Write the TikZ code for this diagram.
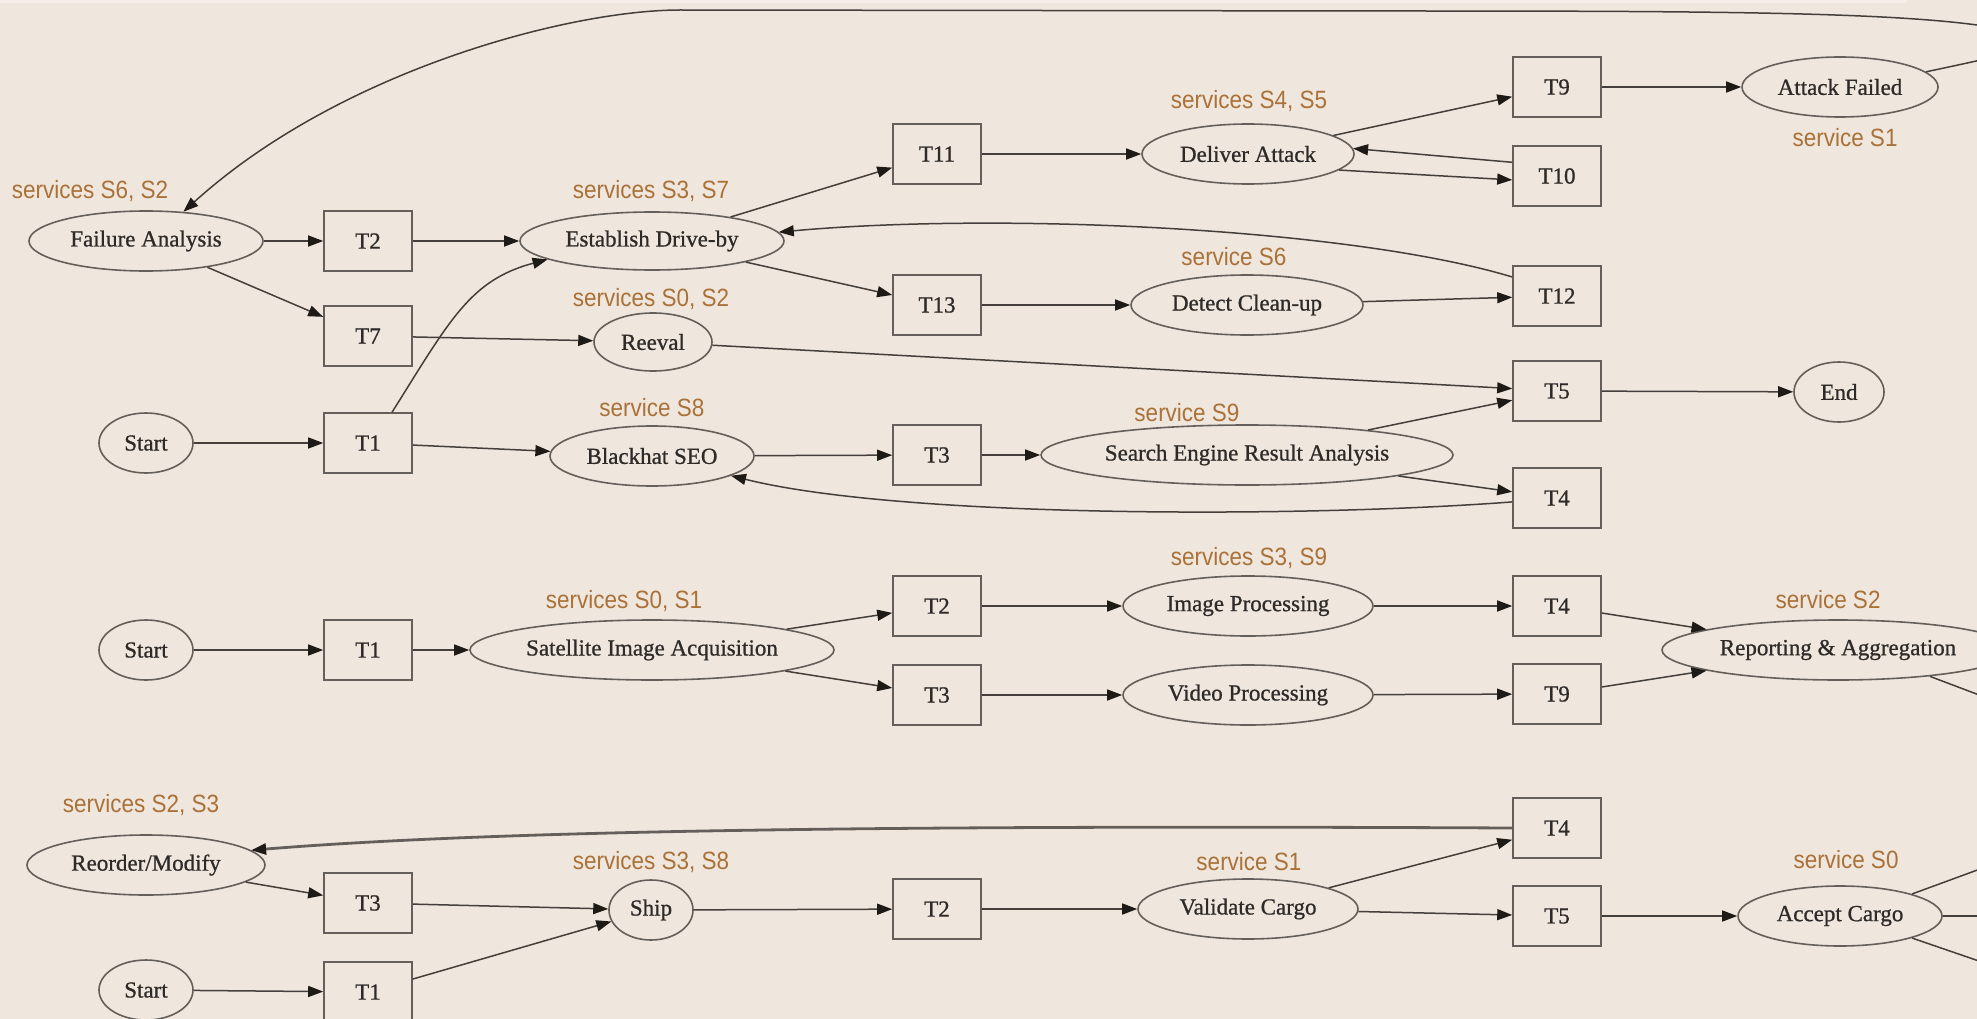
\documentclass[tikz,border=0pt]{standalone}
\usepackage{fontspec}
\setmainfont{Liberation Serif}
\newfontfamily\nodefont[FakeBold=0.8]{Liberation Serif}
\newfontfamily\lblfont[FakeStretch=0.9]{Liberation Sans}
\usetikzlibrary{shapes.geometric,arrows.meta}
\definecolor{bgc}{RGB}{239,231,221}
\definecolor{stripc}{RGB}{244,237,233}
\definecolor{lblc}{RGB}{170,113,56}
\definecolor{edgec}{RGB}{68,63,58}
\definecolor{tipc}{RGB}{30,26,22}
\definecolor{nodec}{RGB}{100,95,90}
\definecolor{txtc}{RGB}{45,42,40}
\tikzset{
  task/.style={rectangle, draw=nodec, line width=1.6pt, minimum width=88pt, minimum height=60pt, inner sep=0pt, text=txtc, font=\nodefont\fontsize{23}{27}\selectfont},
  svc/.style={ellipse, draw=nodec, line width=1.6pt, minimum height=60pt, inner sep=0pt, text=txtc, font=\nodefont\fontsize{23}{27}\selectfont},
  lab/.style={text=lblc, inner sep=0pt, font=\lblfont\fontsize{25}{30}\selectfont},
  conn/.style={draw=edgec, line width=1.5pt, -{Triangle[length=15pt,width=11pt,color=tipc]}},
  plainconn/.style={draw=edgec, line width=1.5pt},
}
\begin{document}
\begin{tikzpicture}[x=1pt,y=-1pt]
\useasboundingbox (0,0) rectangle (1977,1019);
\fill[bgc] (0,0) rectangle (1977,1019);
\fill[stripc] (0,0) rectangle (1907,3);
\clip (0,0) rectangle (1977,1019);

% ---------- top graph ----------
\node[svc, minimum width=234pt] (fa) at (146,241) {Failure Analysis};
\node[task] (t2a) at (368,241) {T2};
\node[task] (t7a) at (368,336) {T7};
\node[svc, minimum width=94pt] (starta) at (146,443) {Start};
\node[task] (t1a) at (368,443) {T1};
\node[svc, minimum width=264pt, minimum height=58pt] (edb) at (652,241) {Establish Drive-by};
\node[svc, minimum width=118pt, minimum height=58pt] (reeval) at (653,342) {Reeval};
\node[svc, minimum width=204pt] (bseo) at (652,456) {Blackhat SEO};
\node[task] (t11) at (937,154) {T11};
\node[task] (t13) at (937,305) {T13};
\node[task] (t3a) at (937,455) {T3};
\node[svc, minimum width=212pt] (da) at (1248,154) {Deliver Attack};
\node[svc, minimum width=232pt] (dc) at (1247,305) {Detect Clean-up};
\node[svc, minimum width=412pt] (sera) at (1247,455) {Search Engine Result Analysis};
\node[task] (t9a) at (1557,87) {T9};
\node[task] (t10) at (1557,176) {T10};
\node[task] (t12) at (1557,296) {T12};
\node[task] (t5a) at (1557,391) {T5};
\node[task] (t4a) at (1557,498) {T4};
\node[svc, minimum width=196pt] (af) at (1840,87) {Attack Failed};
\node[svc, minimum width=90pt] (endn) at (1839,392) {End};

\node[lab] (lfa) at (90,191) {services S6, S2};
\node[lab] (ledb) at (651,191) {services S3, S7};
\node[lab] (lre) at (651,299) {services S0, S2};
\node[lab] (lbs) at (652,408) {service S8};
\node[lab] (lda) at (1249,101) {services S4, S5};
\node[lab] (laf) at (1845,138) {service S1};
\node[lab] (ldc) at (1234,257) {service S6};
\node[lab] (lse) at (1187,413) {service S9};

\draw[conn] (fa) -- (t2a);
\draw[conn] (fa) -- (t7a);
\draw[conn] (t2a) -- (edb);
\draw[conn] (t7a) -- (reeval);
\draw[conn] (starta) -- (t1a);
\draw[conn] (t1a.52) .. controls (450,320) and (470,280) .. (edb.190);
\draw[conn] (t1a) -- (bseo);
\draw[conn] (edb) -- (t11);
\draw[conn] (edb) -- (t13);
\draw[conn] (t11) -- (da);
\draw[conn] (da) -- (t9a);
\draw[conn] (t10.163) -- (da.3);
\draw[conn] (da.350) -- (t10.185);
\draw[conn] (t9a) -- (af);
\draw[conn] (t13) -- (dc);
\draw[conn] (dc) -- (t12);
\draw[conn] (t12.157) .. controls (1350,228) and (1000,212) .. (edb.4);
\draw[conn] (reeval) -- (t5a);
\draw[conn] (sera) -- (t5a);
\draw[conn] (sera) -- (t4a);
\draw[conn] (t5a) -- (endn);
\draw[conn] (bseo) -- (t3a);
\draw[conn] (t3a) -- (sera);
\draw[conn] (t4a.185) .. controls (1300,518) and (900,518) .. (bseo.346);
\coordinate (loopa) at (1977,25);
\coordinate (loopb) at (1400,11);
\coordinate (loopc) at (680,10);
\draw[conn] (af.10) .. controls (2100,35) and (2100,30) .. (loopa)
  .. controls (1880,12) and (1700,11) .. (loopb) -- (loopc)
  .. controls (570,10) and (340,70) .. (fa.38);

% ---------- middle graph ----------
\node[svc, minimum width=94pt] (startb) at (146,650) {Start};
\node[task] (t1b) at (368,650) {T1};
\node[svc, minimum width=364pt] (sia) at (652,650) {Satellite Image Acquisition};
\node[task] (t2b) at (937,606) {T2};
\node[task] (t3b) at (937,695) {T3};
\node[svc, minimum width=250pt] (ip) at (1248,606) {Image Processing};
\node[svc, minimum width=250pt] (vp) at (1248,695) {Video Processing};
\node[task] (t4b) at (1557,606) {T4};
\node[task] (t9b) at (1557,694) {T9};
\node[svc, minimum width=352pt] (ra) at (1838,650) {Reporting \& Aggregation};

\node[lab] (lsia) at (624,601) {services S0, S1};
\node[lab] (lip) at (1249,558) {services S3, S9};
\node[lab] (lra) at (1828,600) {service S2};

\draw[conn] (startb) -- (t1b);
\draw[conn] (t1b) -- (sia);
\draw[conn] (sia) -- (t2b);
\draw[conn] (sia) -- (t3b);
\draw[conn] (t2b) -- (ip);
\draw[conn] (t3b) -- (vp);
\draw[conn] (ip) -- (t4b);
\draw[conn] (vp) -- (t9b);
\draw[conn] (t4b) -- (ra);
\draw[conn] (t9b) -- (ra);
\coordinate (raout) at (2040,718);
\draw[plainconn] (ra.344) -- (raout);

% ---------- bottom graph ----------
\node[svc, minimum width=238pt] (rm) at (146,865) {Reorder/Modify};
\node[task] (t3c) at (368,903) {T3};
\node[svc, minimum width=94pt] (startc) at (146,990) {Start};
\node[task] (t1c) at (368,992) {T1};
\node[svc, minimum width=84pt] (ship) at (651,910) {Ship};
\node[task] (t2c) at (937,909) {T2};
\node[svc, minimum width=220pt] (vc) at (1248,909) {Validate Cargo};
\node[task] (t4c) at (1557,828) {T4};
\node[task] (t5c) at (1557,916) {T5};
\node[svc, minimum width=204pt] (ac) at (1840,916) {Accept Cargo};

\node[lab] (lrm) at (141,805) {services S2, S3};
\node[lab] (lsh) at (651,862) {services S3, S8};
\node[lab] (lvc) at (1249,862) {service S1};
\node[lab] (lac) at (1846,860) {service S0};

\draw[conn] (rm) -- (t3c);
\draw[conn] (t3c) -- (ship);
\draw[conn] (startc) -- (t1c);
\draw[conn] (t1c) -- (ship);
\draw[conn] (ship) -- (t2c);
\draw[conn] (t2c) -- (vc);
\draw[conn] (vc) -- (t4c);
\draw[conn] (vc) -- (t5c);
\draw[conn] (t5c) -- (ac);
\draw[conn, draw=nodec, line width=2.8pt] (t4c.west) .. controls (900,825) and (500,830) .. (rm.8);
\coordinate (acouta) at (2040,847);
\coordinate (acoutb) at (2040,916);
\coordinate (acoutc) at (2040,982);
\draw[plainconn] (ac.17) -- (acouta);
\draw[plainconn] (ac.east) -- (acoutb);
\draw[plainconn] (ac.343) -- (acoutc);
\end{tikzpicture}
\end{document}
